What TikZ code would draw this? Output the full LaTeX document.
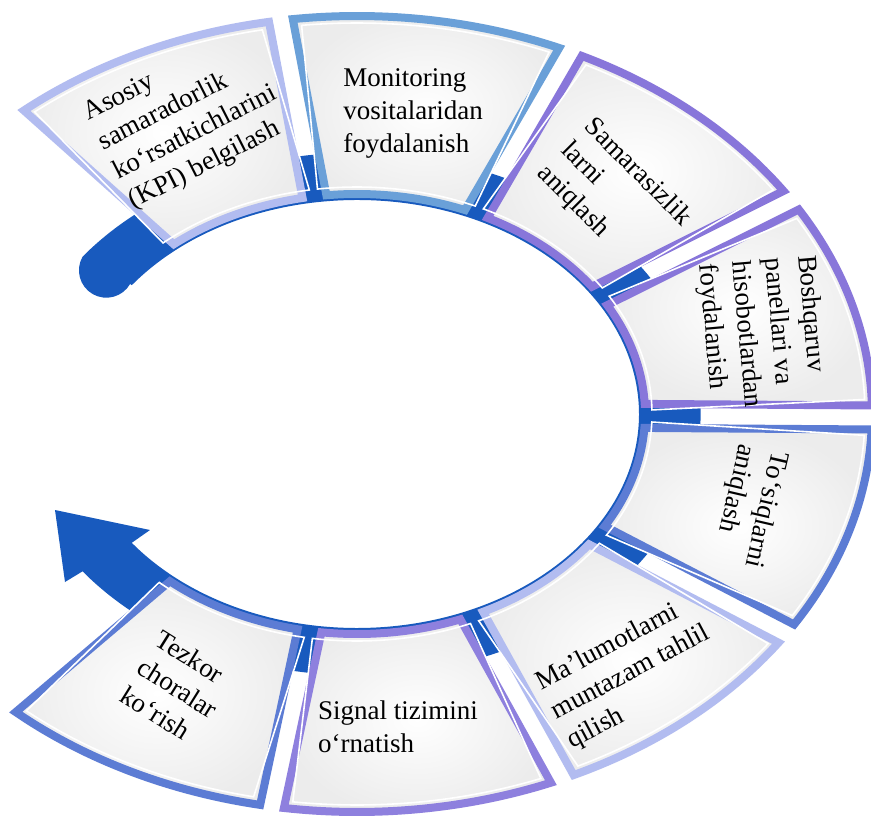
\documentclass[tikz,border=0pt]{standalone}
\usepackage{fontspec}
\setmainfont{Liberation Serif}
\definecolor{bandc}{RGB}{24,90,190}
\definecolor{cLav}{RGB}{178,188,240}
\definecolor{cSky}{RGB}{106,160,216}
\definecolor{cPur}{RGB}{136,118,218}
\definecolor{cBlu}{RGB}{92,124,212}
\definecolor{cPurL}{RGB}{142,128,222}
\definecolor{segfill}{RGB}{236,236,236}
% #1 outer start, #2 outer end, #3 inner end, #4 inner start (parametric ellipse angles)
\newcommand{\segpath}[4]{({#1}:515 and 398) arc[start angle={#1}, end angle={#2}, x radius=515, y radius=398] -- ({#3}:288 and 220) arc[start angle={#3}, end angle={#4}, x radius=288, y radius=220] -- cycle}
\newcommand{\seginner}[4]{({#1-0.9}:508 and 391) arc[start angle={#1-0.9}, end angle={#2+0.9}, x radius=508, y radius=391] -- ({#3-1.6}:295 and 227) arc[start angle={#3-1.6}, end angle={#4+1.6}, x radius=295, y radius=227] -- cycle}
\tikzset{
  segbox/.style={line width=8pt, line join=miter, miter limit=20, inner color=white, outer color=segfill},
  seghi/.style={draw=white, line width=1.6pt, line join=miter},
  lbl/.style={font=\fontsize{27}{33}\selectfont, align=left, inner sep=0pt, text=black}
}
\begin{document}
\begin{tikzpicture}[x=1pt, y=1pt]
\useasboundingbox (-357,-401) rectangle (514,414);
\clip (-357,-401) rectangle (514,414);
\fill[white] (-357,-401) rectangle (514,414);
% blue band with round start and arrow head
\coordinate (w1) at (-207,-116);
\coordinate (tip) at (-302,-96);
\coordinate (w2) at (-292,-168);
\fill[bandc] (143:282 and 214) arc[start angle=143, end angle=-143, x radius=282, y radius=214]
  -- (w1) -- (tip) -- (w2)
  -- (-143:343.6 and 261.4) arc[start angle=-143, end angle=143, x radius=343.6, y radius=261.4]
  arc[start angle=150.2, end angle=330.2, radius=27.4] -- cycle;
% segments
\shadedraw[segbox, draw=cLav] \segpath{130.3}{99.84}{100.9}{129.5};
\draw[seghi] \seginner{130.3}{99.84}{100.9}{129.5};
\shadedraw[segbox, draw=cSky] \segpath{97.16}{66.88}{67.97}{96.1};
\draw[seghi] \seginner{97.16}{66.88}{67.97}{96.1};
\shadedraw[segbox, draw=cPur] \segpath{64.12}{34.08}{35.34}{63.03};
\draw[seghi] \seginner{64.12}{34.08}{35.34}{63.03};
\shadedraw[segbox, draw=cPur] \segpath{30.92}{1.23}{2.63}{29.66};
\draw[seghi] \seginner{30.92}{1.23}{2.63}{29.66};
\shadedraw[segbox, draw=cBlu] \segpath{-2.23}{-31.93}{-30.67}{-3.63};
\draw[seghi] \seginner{-2.23}{-31.93}{-30.67}{-3.63};
\shadedraw[segbox, draw=cLav] \segpath{-35.07}{-65.12}{-64.03}{-36.33};
\draw[seghi] \seginner{-35.07}{-65.12}{-64.03}{-36.33};
\shadedraw[segbox, draw=cPurL] \segpath{-67.88}{-98.16}{-97.1}{-68.97};
\draw[seghi] \seginner{-67.88}{-98.16}{-97.1}{-68.97};
\shadedraw[segbox, draw=cBlu] \segpath{-100.84}{-131.5}{-130.5}{-101.9};
\draw[seghi] \seginner{-100.84}{-131.5}{-130.5}{-101.9};
% labels
\node[lbl, rotate=27] (kpi) at (-169,295) {Asosiy\\samaradorlik\\ko‘rsatkichlarini\\(KPI) belgilash};
\node[lbl] (mon) at (56,301) {Monitoring\\vositalaridan\\foydalanish};
\node[lbl, rotate=-45] (sam) at (257,218) {Samarasizlik\\larni\\aniqlash};
\node[lbl, rotate=-85] (bosh) at (405,81) {Boshqaruv\\panellari va\\hisobotlardan\\foydalanish};
\node[lbl, rotate=-103] (tos) at (392,-92) {To‘siqlarni\\aniqlash};
\node[lbl, rotate=28] (mal) at (274,-259) {Ma’lumotlarni\\muntazam tahlil\\qilish};
\node[lbl] (sig) at (41,-313) {Signal tizimini\\o‘rnatish};
\node[lbl, rotate=-32] (tez) at (-179,-274) {Tezkor\\choralar\\ko‘rish};
\end{tikzpicture}
\end{document}
